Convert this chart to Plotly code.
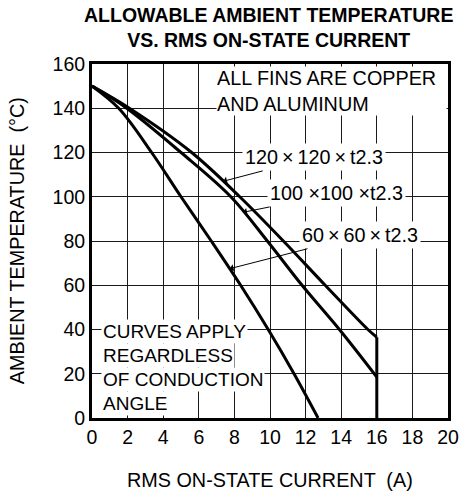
import plotly.graph_objects as go

# Allowable ambient temperature vs RMS on-state current, three heat-sink fin sizes
current_120 = [0, 2.1, 5.6, 8.3, 10.75, 13.1, 15.5, 16]
temp_120 = [150, 140, 120, 100, 80, 60, 40, 36.5]

current_100 = [0, 1.95, 5.0, 7.8, 9.85, 11.8, 13.9, 16]
temp_100 = [150, 140, 120, 100, 80, 60, 40, 18.5]

current_60 = [0, 1.5, 3.35, 5.0, 6.7, 8.35, 9.9, 11.35, 12.7]
temp_60 = [150, 140, 120, 100, 80, 60, 40, 20, 0]

x_ticks = list(range(0, 21, 2))
y_ticks = list(range(0, 161, 20))

FONT = "Liberation Sans, Arial, Helvetica, sans-serif"
INK = "#000000"

fig = go.Figure()

curve_style = dict(mode="lines", line=dict(color=INK, width=3), hoverinfo="skip",
                   showlegend=False)
fig.add_trace(go.Scatter(x=current_120, y=temp_120, line_shape="spline", **curve_style))
fig.add_trace(go.Scatter(x=current_100, y=temp_100, line_shape="spline", **curve_style))
fig.add_trace(go.Scatter(x=current_60, y=temp_60, line_shape="spline", **curve_style))
# current limit: vertical drop at the end of the largest-fin curve
fig.add_trace(go.Scatter(x=[current_120[-1], current_120[-1]], y=[temp_120[-1], 0],
                         **curve_style))

axis_common = dict(
    showgrid=True, gridcolor="#1a1a1a", gridwidth=1,
    showline=True, linecolor=INK, linewidth=3, mirror=True,
    zeroline=False, ticks="", tickfont=dict(family=FONT, size=19.5, color=INK),
    fixedrange=True, automargin=False,
)

fig.update_xaxes(range=[0, 20], tickvals=x_ticks, ticktext=[str(v) for v in x_ticks],
                 **axis_common)
fig.update_yaxes(range=[0, 160], tickvals=y_ticks, ticktext=[str(v) for v in y_ticks],
                 **axis_common)

text_font = dict(family=FONT, size=19.8, color=INK)
note_font = dict(family=FONT, size=19, color=INK)

annotations = [
    # title
    dict(text="<b>ALLOWABLE AMBIENT TEMPERATURE<br>VS. RMS ON-STATE CURRENT</b>",
         xref="paper", yref="paper", x=0.497, y=1.104, xanchor="center", yanchor="middle",
         showarrow=False, font=dict(family=FONT, size=19.5, color=INK)),
    # axis titles
    dict(text="RMS ON-STATE CURRENT \u00a0(A)", xref="paper", yref="paper",
         x=0.5, y=-0.175, xanchor="center", yanchor="middle", showarrow=False,
         font=text_font),
    dict(text="AMBIENT TEMPERATURE \u00a0(°C)", xref="paper", yref="paper",
         x=-0.21, y=0.5, xanchor="center", yanchor="middle", showarrow=False,
         textangle=-90, font=text_font),
    # fin material note, boxed against the upper-right frame
    dict(text="ALL FINS ARE COPPER<br>AND ALUMINUM", xref="x", yref="y",
         x=6.95, y=159.2, xanchor="left", yanchor="top", align="left", valign="middle",
         width=229, height=48, bgcolor="white", borderpad=0, showarrow=False,
         font=text_font),
]

# conduction-angle note, one white-backed line at a time so the curves stay visible
note_lines = ["CURVES APPLY", "REGARDLESS", "OF CONDUCTION", "ANGLE"]
note_line_temps = [38.9, 28.1, 17.6, 6.6]
for line_text, line_temp in zip(note_lines, note_line_temps):
    annotations.append(dict(
        text=line_text, xref="x", yref="y", x=0.5, y=line_temp,
        xanchor="left", yanchor="middle", align="left", bgcolor="white",
        borderpad=1, showarrow=False, font=note_font,
    ))

# fin-size labels with leader arrows pointing at their curves
leader_labels = [
    ("120\u2009×\u2009120\u2009×\u2009t2.3", 7.38, 107.0, 12.47, 117.8),
    ("100 ×100 ×t2.3", 8.5, 93.0, 13.75, 101.5),
    ("60\u2009×\u200960\u2009×\u2009t2.3", 7.75, 67.5, 15.06, 82.6),
]
for label, px, py, tx, ty in leader_labels:
    annotations.append(dict(
        text=label, xref="x", yref="y", x=px, y=py, axref="x", ayref="y", ax=tx, ay=ty,
        showarrow=True, arrowhead=1, arrowsize=1.2, arrowwidth=1, arrowcolor=INK,
        standoff=0, startstandoff=0, bgcolor="white", borderpad=2, font=text_font,
    ))

fig.update_layout(
    width=461, height=498, autosize=False,
    margin=dict(l=92, r=13, t=64, b=80, autoexpand=False),
    paper_bgcolor="white", plot_bgcolor="white",
    font=dict(family=FONT, color=INK),
    annotations=annotations,
    showlegend=False,
)

fig.write_html("out.html", config={"displayModeBar": False, "responsive": False})
